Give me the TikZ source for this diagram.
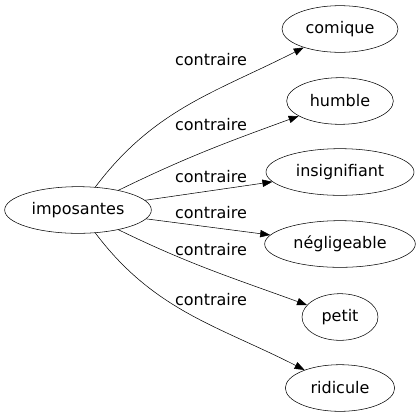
\documentclass[tikz,border=0pt]{standalone}
\usepackage{fontspec}
\setmainfont{DejaVu Sans}
\usetikzlibrary{shapes.geometric,arrows.meta}

\begin{document}
\begin{tikzpicture}[
        x=0.75pt, y=-0.75pt,
        word/.style={draw, ellipse, inner sep=0pt, minimum height=35pt, font=\fontsize{12}{14}\selectfont},
        rel/.style={font=\fontsize{12}{14}\selectfont, inner sep=0pt},
        edge/.style={-{Triangle[length=7.5pt, width=5.5pt]}, thin}
    ]
        \useasboundingbox (0,0) rectangle (420,419);

        % Source and targets
        \node[word, minimum width=110pt] (imposantes) at (78,210) {imposantes};
        \node[word, minimum width=87pt] (comique) at (340,29) {comique};
        \node[word, minimum width=80pt] (humble) at (340,101) {humble};
        \node[word, minimum width=111pt] (insignifiant) at (340,172) {insignifiant};
        \node[word, minimum width=113pt] (negligeable) at (340,244) {négligeable};
        \node[word, minimum width=57pt] (petit) at (340,317) {petit};
        \node[word, minimum width=82pt] (ridicule) at (340,388) {ridicule};

        % Edges
        \draw[edge] (imposantes) to[out=53, in=207] (comique);
        \draw[edge] (imposantes) to[out=26, in=200] (humble);
        \draw[edge] (imposantes) -- (insignifiant);
        \draw[edge] (imposantes) -- (negligeable);
        \draw[edge] (imposantes) to[out=-26, in=160] (petit);
        \draw[edge] (imposantes) to[out=-53, in=153] (ridicule);

        % Edge labels
        \node[rel] (l1) at (211,60) {contraire};
        \node[rel] (l2) at (211,125) {contraire};
        \node[rel] (l3) at (211,177) {contraire};
        \node[rel] (l4) at (211,213) {contraire};
        \node[rel] (l5) at (211,250) {contraire};
        \node[rel] (l6) at (211,300) {contraire};
    \end{tikzpicture}
\end{document}
